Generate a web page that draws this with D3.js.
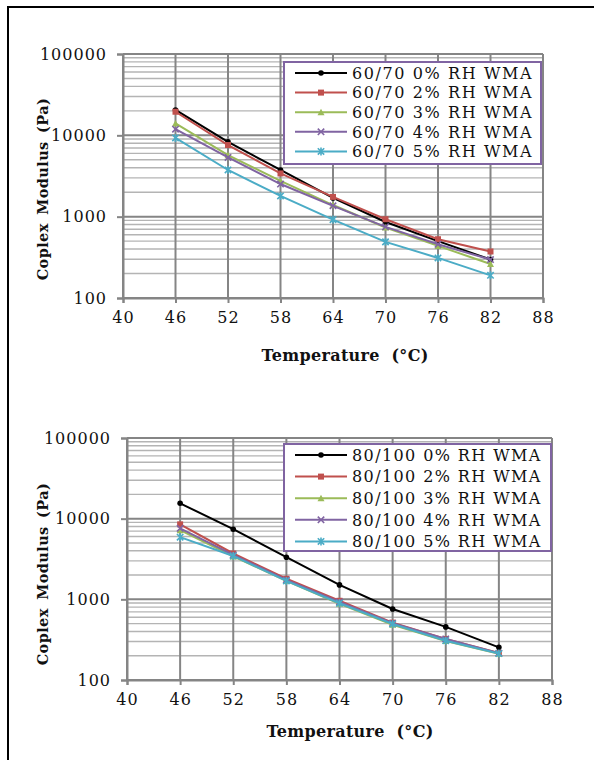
<!DOCTYPE html>
<html>
<head>
<meta charset="utf-8">
<script src="https://cdn.jsdelivr.net/npm/d3@7"></script>
<style>
  html, body { margin: 0; padding: 0; background: #fff; }
  svg { display: block; }
  text { font-family: "DejaVu Serif", "Liberation Serif", serif; fill: #111; }
</style>
</head>
<body>
<svg id="chart" width="594" height="760"></svg>
<script>
// Test temperatures (°C)
const temperatures = [46, 52, 58, 64, 70, 76, 82];
const xTicks = [40, 46, 52, 58, 64, 70, 76, 82, 88];
const yTicks = [100, 1000, 10000, 100000];
const rhLevels = ["0%", "2%", "3%", "4%", "5%"];

// Complex modulus (Pa), 60/70 binder
const g6070_0 = [20500, 8300, 3750, 1700, 860, 500, 297];
const g6070_2 = [19500, 7600, 3400, 1750, 930, 528, 373];
const g6070_3 = [14000, 5700, 2750, 1390, 736, 437, 262];
const g6070_4 = [11900, 5350, 2520, 1360, 750, 458, 297];
const g6070_5 = [9300, 3750, 1800, 920, 490, 311, 190];

// Complex modulus (Pa), 80/100 binder
const g80100_0 = [15500, 7400, 3330, 1510, 760, 455, 254];
const g80100_2 = [8500, 3700, 1800, 960, 514, 323, 216];
const g80100_3 = [7200, 3400, 1700, 880, 485, 305, 212];
const g80100_4 = [7600, 3550, 1740, 928, 505, 323, 215];
const g80100_5 = [5900, 3450, 1690, 895, 495, 307, 213];

const colors = ["#000000", "#C0504D", "#9BBB59", "#8064A2", "#4BACC6"];
const markers = ["dot", "square", "triangle", "cross", "star"];

const svg = d3.select("#chart");

// page frame
svg.append("path")
  .attr("d", "M8,760 L8,7 L594,7")
  .attr("fill", "none").attr("stroke", "#000").attr("stroke-width", 2);

function drawMarker(g, type, color) {
  if (type === "dot") {
    g.append("circle").attr("r", 2.8).attr("fill", color);
  } else if (type === "square") {
    g.append("rect").attr("x", -3).attr("y", -3).attr("width", 6).attr("height", 6).attr("fill", color);
  } else if (type === "triangle") {
    g.append("path").attr("d", "M0,-3.5 L3.5,3 L-3.5,3 Z").attr("fill", color);
  } else if (type === "cross") {
    g.append("path").attr("d", "M-3.2,-3.2 L3.2,3.2 M-3.2,3.2 L3.2,-3.2")
      .attr("stroke", color).attr("stroke-width", 1.6);
  } else {
    g.append("path").attr("d", "M-3.2,-3.2 L3.2,3.2 M-3.2,3.2 L3.2,-3.2 M0,-4 L0,4")
      .attr("stroke", color).attr("stroke-width", 1.6);
  }
}

function drawChart(cfg) {
  const x = d3.scaleLinear().domain([40, 88]).range([cfg.left, cfg.right]);
  const y = d3.scaleLog().domain([100, 100000]).range([cfg.bottom, cfg.top]);
  const g = svg.append("g");

  // minor horizontal grid
  const minor = [];
  for (let d = 100; d < 100000; d *= 10) for (let k = 2; k <= 9; k++) minor.push(d * k);
  g.append("g").selectAll("line").data(minor).join("line")
    .attr("x1", cfg.left).attr("x2", cfg.right)
    .attr("y1", d => y(d)).attr("y2", d => y(d))
    .attr("stroke", "#b4b4b4").attr("stroke-width", 1.4);

  // major grid
  g.append("g").selectAll("line").data(yTicks).join("line")
    .attr("x1", cfg.left).attr("x2", cfg.right)
    .attr("y1", d => y(d)).attr("y2", d => y(d))
    .attr("stroke", "#858585").attr("stroke-width", 2);
  g.append("g").selectAll("line").data(xTicks).join("line")
    .attr("x1", d => x(d)).attr("x2", d => x(d))
    .attr("y1", cfg.top).attr("y2", cfg.bottom)
    .attr("stroke", "#858585").attr("stroke-width", 2);

  // axes
  const yAxis = g.append("g").attr("transform", `translate(${cfg.left},0)`)
    .call(d3.axisLeft(y).tickValues(yTicks).tickFormat(d3.format("d")).tickSize(6).tickPadding(10));
  const xAxis = g.append("g").attr("transform", `translate(0,${cfg.bottom})`)
    .call(d3.axisBottom(x).tickValues(xTicks).tickFormat(d3.format("d")).tickSize(5).tickPadding(9));
  [yAxis, xAxis].forEach(a => {
    a.select(".domain").attr("stroke", "#858585").attr("stroke-width", 2);
    a.selectAll(".tick line").attr("stroke", "#858585").attr("stroke-width", 2);
    a.selectAll(".tick text").attr("font-family", "DejaVu Serif").attr("font-size", 16)
      .attr("letter-spacing", 1).attr("fill", "#111");
  });

  // series
  const line = d3.line().x((d, i) => x(temperatures[i])).y(d => y(d));
  cfg.series.forEach((vals, s) => {
    g.append("path").datum(vals).attr("d", line)
      .attr("fill", "none").attr("stroke", colors[s]).attr("stroke-width", 2);
    vals.forEach((v, i) => {
      const m = g.append("g").attr("transform", `translate(${x(temperatures[i])},${y(v)})`);
      drawMarker(m, markers[s], colors[s]);
    });
  });

  // legend
  const lg = g.append("g");
  lg.append("rect")
    .attr("x", cfg.legend.x).attr("y", cfg.legend.y)
    .attr("width", cfg.legend.w).attr("height", cfg.legend.h)
    .attr("fill", "#fff").attr("stroke", "#8064A2").attr("stroke-width", 2);
  rhLevels.forEach((rh, s) => {
    const cy = cfg.legend.y + cfg.legend.first + s * cfg.legend.step;
    const lx = cfg.legend.x + 11;
    lg.append("line").attr("x1", lx).attr("x2", lx + 52).attr("y1", cy).attr("y2", cy)
      .attr("stroke", colors[s]).attr("stroke-width", 2);
    drawMarker(lg.append("g").attr("transform", `translate(${lx + 26},${cy})`), markers[s], colors[s]);
    lg.append("text").attr("x", lx + 57).attr("y", cy).attr("dy", "0.36em")
      .attr("font-size", 16).attr("letter-spacing", cfg.legend.ls)
      .text(`${cfg.binder} ${rh} RH WMA`);
  });

  // axis titles
  svg.append("text")
    .attr("transform", `translate(${cfg.yTitleX},${cfg.yTitleY}) rotate(-90)`)
    .attr("text-anchor", "middle").attr("dy", "0.35em")
    .attr("font-size", 14.5).attr("font-weight", "bold")
    .attr("letter-spacing", 0.4).attr("word-spacing", 3)
    .text("Coplex Modulus (Pa)");
  svg.append("text")
    .attr("x", cfg.xTitleX).attr("y", cfg.xTitleY).attr("dy", "0.35em")
    .attr("text-anchor", "middle").attr("font-size", 16).attr("font-weight", "bold")
    .attr("letter-spacing", 0.3)
    .attr("xml:space", "preserve").style("white-space", "pre")
    .text("Temperature  (°C)");
}

drawChart({
  binder: "60/70",
  left: 123, right: 543, top: 54, bottom: 298,
  series: [g6070_0, g6070_2, g6070_3, g6070_4, g6070_5],
  legend: { x: 284, y: 62, w: 257, h: 102, first: 11, step: 19.6, ls: 1.6 },
  yTitleX: 43, yTitleY: 189, xTitleX: 345, xTitleY: 355
});

drawChart({
  binder: "80/100",
  left: 127, right: 552, top: 438, bottom: 680,
  series: [g80100_0, g80100_2, g80100_3, g80100_4, g80100_5],
  legend: { x: 284, y: 444, w: 267, h: 107, first: 11, step: 21.6, ls: 1.4 },
  yTitleX: 43, yTitleY: 574, xTitleX: 350, xTitleY: 731
});
</script>
</body>
</html>
